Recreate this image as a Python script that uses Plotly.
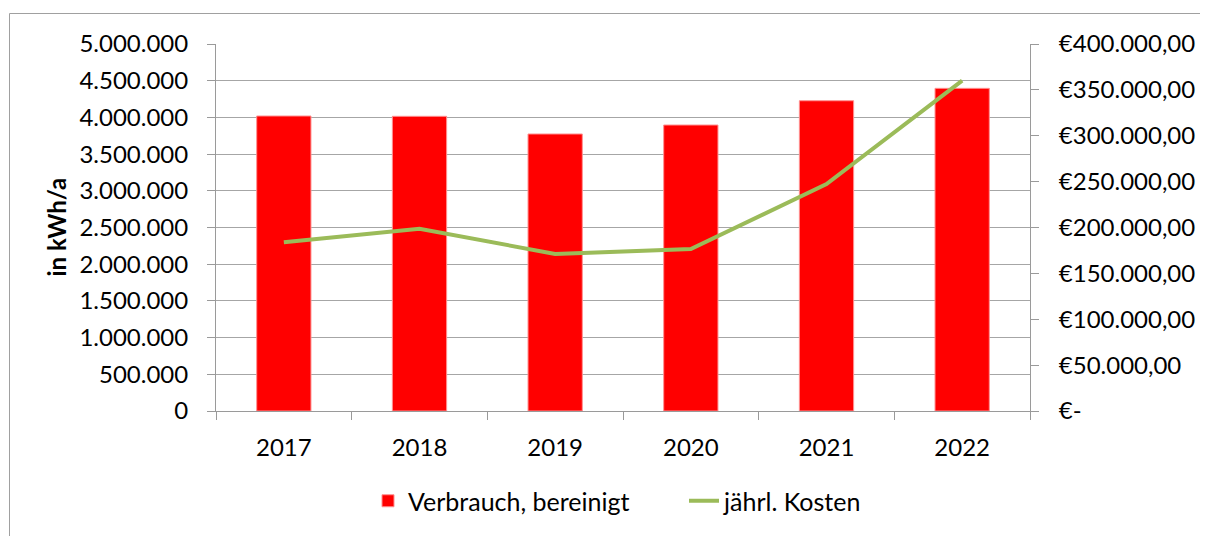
import plotly.graph_objects as go

years = ["2017", "2018", "2019", "2020", "2021", "2022"]
verbrauch = [4019000, 4015000, 3774000, 3896000, 4227000, 4396000]
kosten = [183900, 198700, 171100, 176500, 247400, 360000]

left_ticks = [0, 500000, 1000000, 1500000, 2000000, 2500000, 3000000, 3500000, 4000000, 4500000, 5000000]
right_tickvals = [0, 50000, 100000, 150000, 200000, 250000, 300000, 350000, 400000]
right_ticktext = ["€-", "€50.000,00", "€100.000,00", "€150.000,00", "€200.000,00",
                  "€250.000,00", "€300.000,00", "€350.000,00", "€400.000,00"]

FONT = "Lato"
FS = 24
AX = "#9a9a9a"

# page has 8px body margin: figure origin is at page (8, 8)
OFF = 8
L, T, PW, PH = 216 - OFF, 44 - OFF, 814, 367
W, H = 1200, 528

fig = go.Figure()
fig.add_trace(go.Bar(
    x=years, y=verbrauch, name="Verbrauch, bereinigt",
    marker=dict(color="#FF0000", line=dict(color="#FF9090", width=1)),
    width=0.4, yaxis="y",
))
fig.add_trace(go.Scatter(
    x=years, y=kosten, name="jährl. Kosten", mode="lines",
    line=dict(color="#9BBB59", width=4), yaxis="y2",
))


def px_x(page_x):
    return (page_x - OFF - L) / PW


def px_y(page_y):
    return (T + PH - (page_y - OFF)) / PH


fig.update_layout(
    width=W, height=H,
    margin=dict(l=L, r=W - L - PW, t=T, b=H - T - PH, pad=0, autoexpand=False),
    paper_bgcolor="white", plot_bgcolor="white",
    separators=",.",
    font=dict(family=FONT, size=FS, color="#000000"),
    showlegend=True,
    legend=dict(orientation="h", xref="container", yref="container",
                x=(368 - OFF) / W, xanchor="left",
                y=1 - (478 - OFF) / H, yanchor="top",
                entrywidth=271, entrywidthmode="pixels",
                font=dict(family=FONT, size=25), traceorder="normal"),
    xaxis=dict(
        type="category", showline=True, linecolor=AX, linewidth=1,
        ticks="outside", ticklen=8, tickcolor=AX, tickson="boundaries",
        showgrid=False, ticklabelstandoff=15, automargin=False,
        range=[-0.5, 5.5],
    ),
    yaxis=dict(
        range=[0, 5000000], tickvals=left_ticks, tickformat=",d",
        showline=True, linecolor=AX, linewidth=1,
        ticks="outside", ticklen=8, tickcolor=AX,
        showgrid=True, gridcolor="#a6a6a6", gridwidth=1,
        zeroline=False, ticklabelstandoff=14, automargin=False,
    ),
    yaxis2=dict(
        range=[0, 400000], tickvals=right_tickvals, ticktext=right_ticktext,
        overlaying="y", side="right",
        showline=True, linecolor=AX, linewidth=1,
        ticks="outside", ticklen=8, tickcolor=AX,
        showgrid=False, zeroline=False, ticklabelstandoff=15, automargin=False,
    ),
    annotations=[dict(
        text="<b>in kWh/a</b>", textangle=-90, xref="paper", yref="paper",
        x=px_x(56), y=0.5, xanchor="center", yanchor="middle",
        showarrow=False, font=dict(family=FONT, size=FS),
    )],
    shapes=[dict(
        type="rect", xref="paper", yref="paper",
        x0=px_x(9.5), x1=px_x(1220),
        y0=px_y(560), y1=px_y(13.5),
        line=dict(color="#a0a0a0", width=1), fillcolor="rgba(0,0,0,0)",
    )],
)

fig.write_html("out.html")
